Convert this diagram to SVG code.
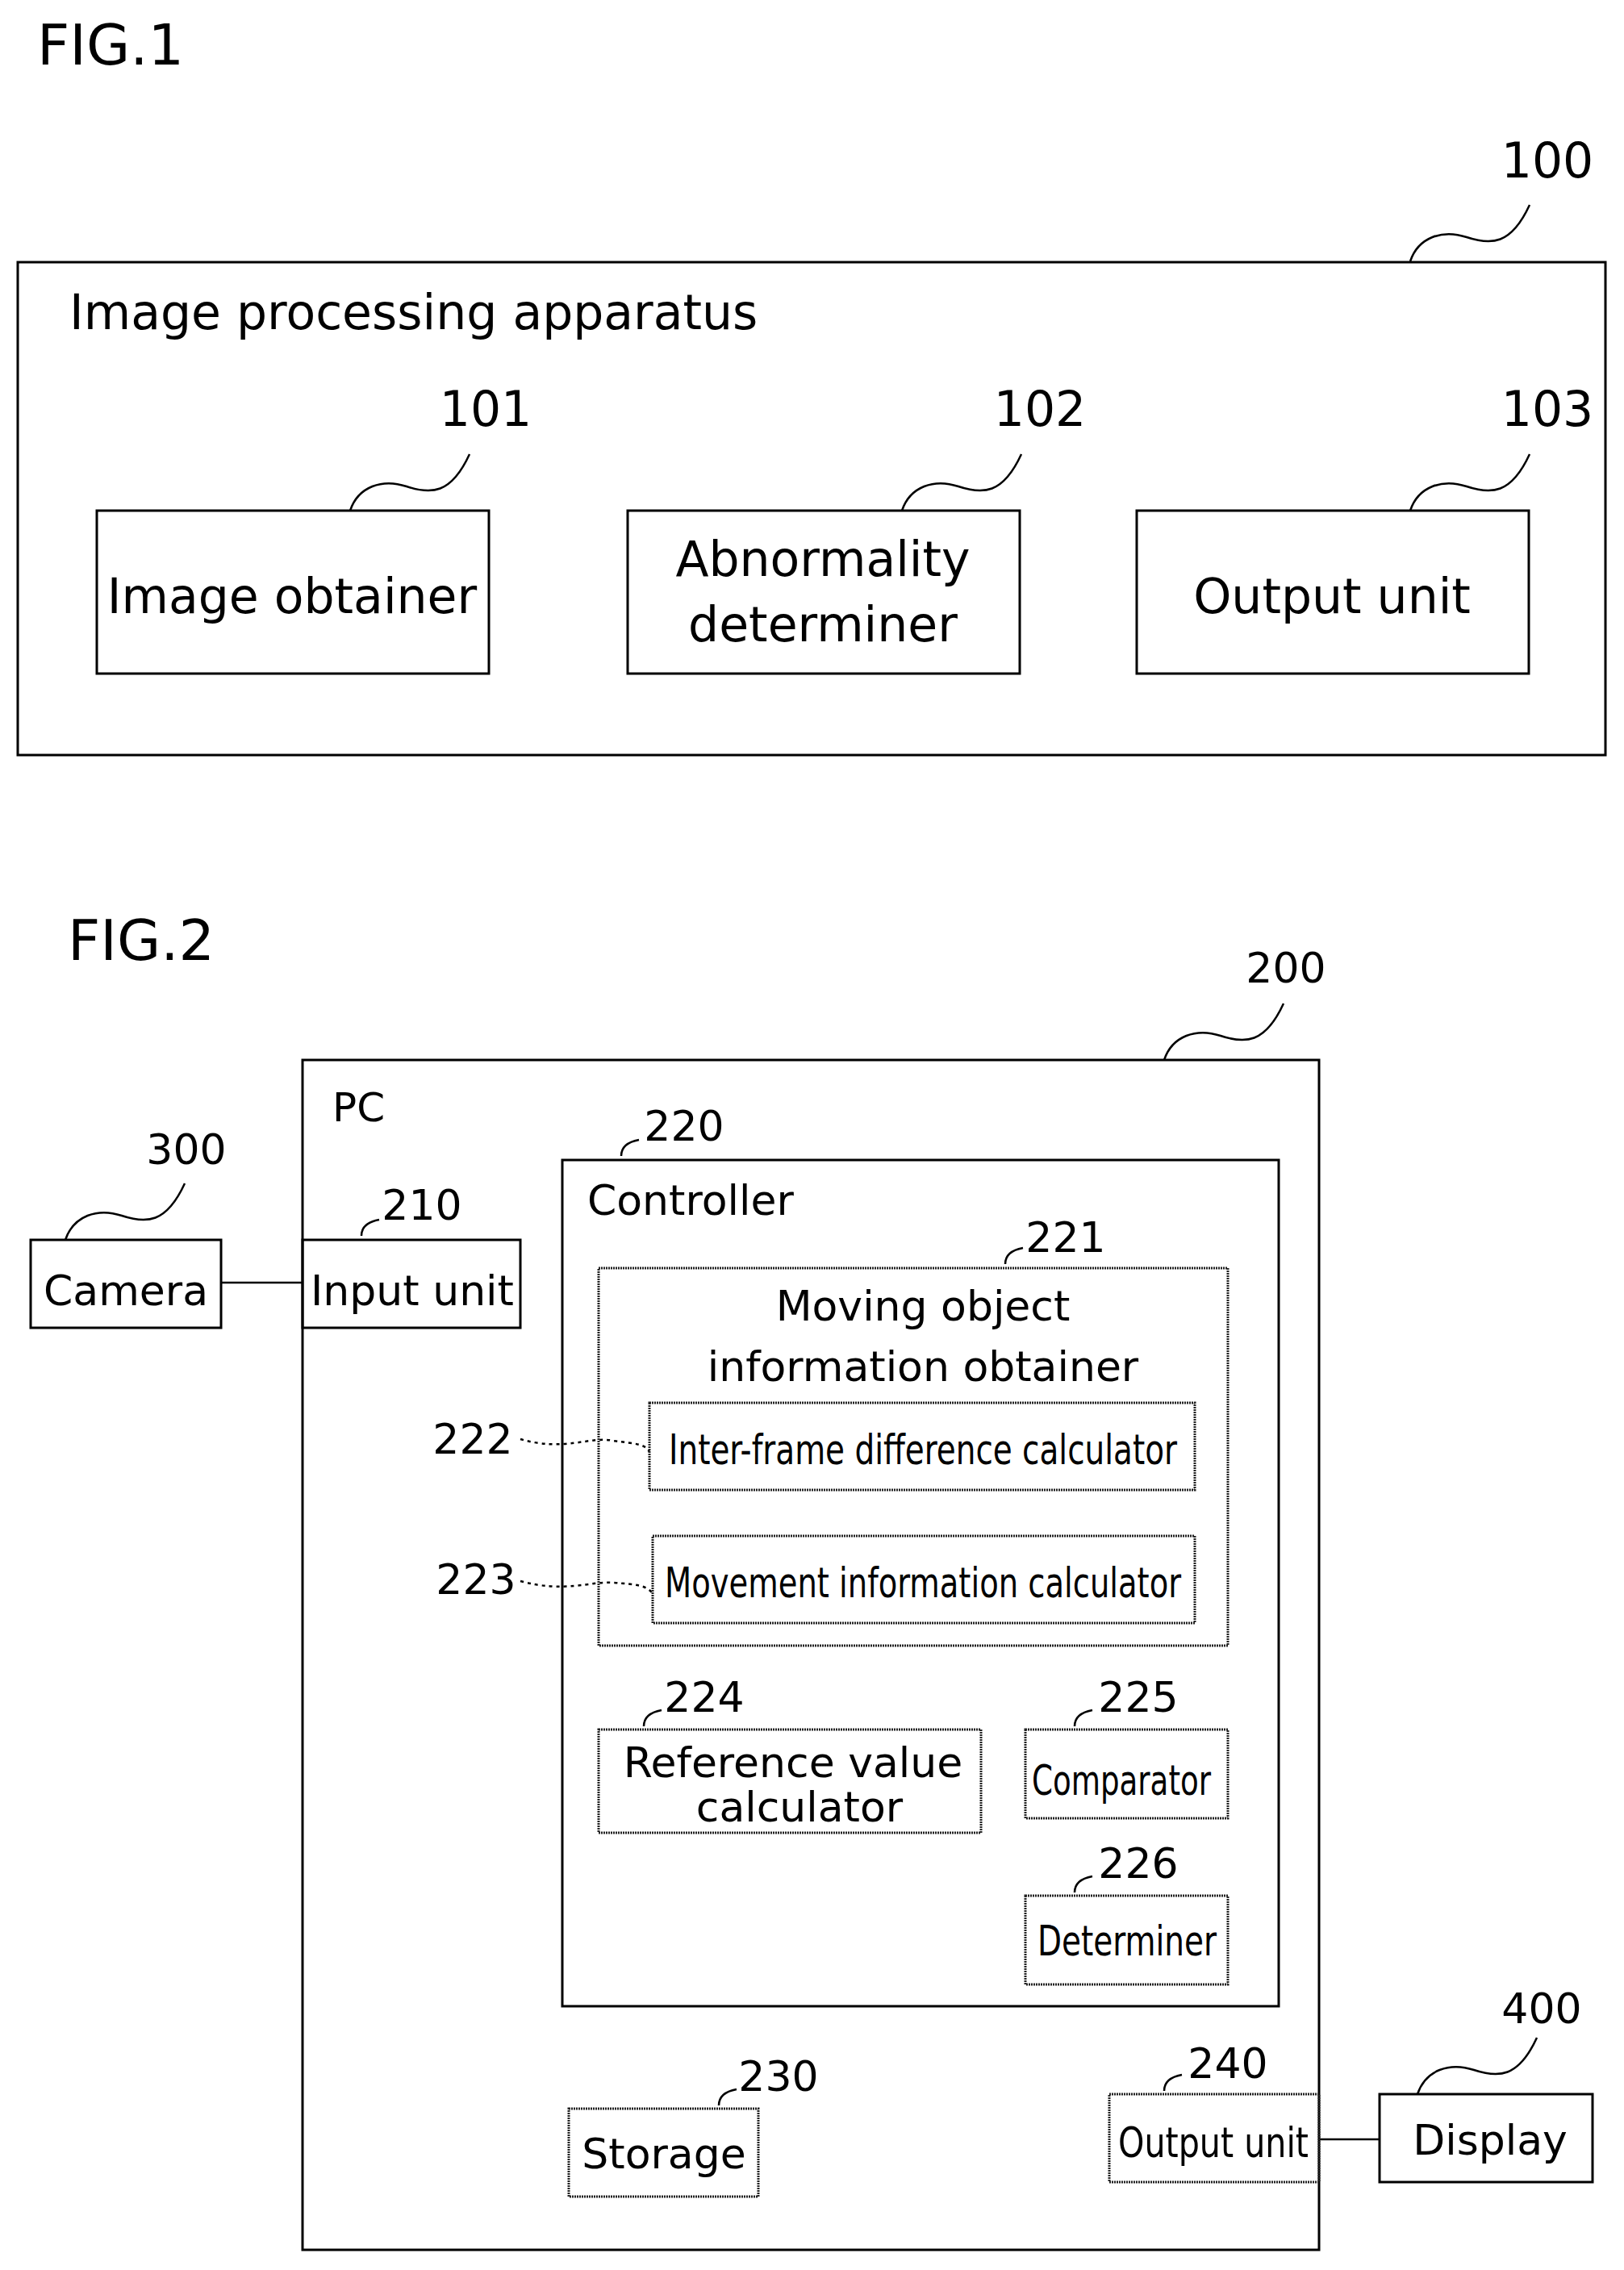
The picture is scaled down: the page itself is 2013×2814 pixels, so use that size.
<svg xmlns="http://www.w3.org/2000/svg" width="2013" height="2814" viewBox="0 0 2013 2814">
<style>
text{font-family:"DejaVu Sans",Verdana,sans-serif;fill:#000}
.b{fill:none;stroke:#000;stroke-width:3}
.d{fill:none;stroke:#222;stroke-width:3;stroke-dasharray:2 1}
.l{fill:none;stroke:#000;stroke-width:2.5}
.t1{font-size:60px;text-anchor:middle}
.t2{font-size:52px;text-anchor:middle}
.n{font-size:52px;text-anchor:middle;font-family:"Liberation Sans Narrow","DejaVu Sans Condensed",sans-serif}
.fig{font-size:70px}
</style>
<defs>
<path id="sq" d="M0,0 C10,-30 40,-40 70,-30 S125,-20 148,-70" fill="none" stroke="#000" stroke-width="2.5"/>
<path id="hk" d="M0,0 q0,-16 22,-20" fill="none" stroke="#000" stroke-width="2.5"/>
</defs>
<text class="fig" x="46" y="80">FIG.1</text>
<g id="n100"><rect class="b" x="22" y="325" width="1968" height="611"/><text x="86" y="408" font-size="60">Image processing apparatus</text><text class="t1" x="1918" y="220">100</text><use href="#sq" x="1748" y="324"/></g>
<g id="n101"><rect class="b" x="120" y="633" width="486" height="202"/><text class="t1" x="362" y="760">Image obtainer</text><text class="t1" x="602" y="528">101</text><use href="#sq" x="434" y="633"/></g>
<g id="n102"><rect class="b" x="778" y="633" width="486" height="202"/><text class="t1" x="1020" y="714">Abnormality</text><text class="t1" x="1020" y="795">determiner</text><text class="t1" x="1289" y="528">102</text><use href="#sq" x="1118" y="633"/></g>
<g id="n103"><rect class="b" x="1409" y="633" width="486" height="202"/><text class="t1" x="1651" y="760">Output unit</text><text class="t1" x="1918" y="528">103</text><use href="#sq" x="1748" y="633"/></g>
<text class="fig" x="84" y="1190">FIG.2</text>
<g id="connectors"><line class="l" x1="274" y1="1590" x2="375" y2="1590"/><line class="l" x1="1635" y1="2652" x2="1710" y2="2652"/>
<path class="l" stroke-dasharray="4 5" d="M645,1784 C700,1800 730,1780 760,1786 C790,1790 800,1790 805,1800"/>
<path class="l" stroke-dasharray="4 5" d="M645,1960 C700,1975 730,1960 760,1962 C790,1964 800,1965 809,1975"/></g>
<g id="n200"><rect class="b" x="375" y="1314" width="1260" height="1475"/><text x="412" y="1390" font-size="50" font-family="Liberation Sans Narrow,sans-serif">PC</text><text class="t2" x="1594" y="1218">200</text><use href="#sq" x="1443" y="1314"/></g>
<g id="n220"><rect class="b" x="697" y="1438" width="888" height="1049"/><text x="728" y="1506" font-size="52">Controller</text><text class="t2" x="848" y="1414">220</text><use href="#hk" x="770" y="1433"/></g>
<g id="n300"><rect class="b" x="38" y="1537" width="236" height="109"/><text class="t2" x="156" y="1618">Camera</text><text class="t2" x="231" y="1443">300</text><use href="#sq" x="81" y="1537"/></g>
<g id="n210"><rect class="b" x="375" y="1537" width="270" height="109"/><text class="t2" x="511" y="1618">Input unit</text><text class="t2" x="523" y="1512">210</text><use href="#hk" x="448" y="1532"/></g>
<g id="n221"><rect class="d" x="742" y="1572" width="780" height="468"/><text class="t2" x="1144" y="1637">Moving object</text><text class="t2" x="1144" y="1712">information obtainer</text><text class="t2" x="1321" y="1552">221</text><use href="#hk" x="1246" y="1567"/></g>
<g id="n222"><rect class="d" x="805" y="1739" width="676" height="108"/><text class="n" x="1144" y="1815" textLength="630" lengthAdjust="spacingAndGlyphs">Inter-frame difference calculator</text><text class="t2" x="586" y="1802">222</text></g>
<g id="n223"><rect class="d" x="809" y="1904" width="672" height="108"/><text class="n" x="1144" y="1980" textLength="640" lengthAdjust="spacingAndGlyphs">Movement information calculator</text><text class="t2" x="590" y="1976">223</text></g>
<g id="n224"><rect class="d" x="742" y="2144" width="474" height="128"/><text class="t2" x="983" y="2203">Reference value</text><text class="t2" x="991" y="2258">calculator</text><text class="t2" x="873" y="2122">224</text><use href="#hk" x="798" y="2140"/></g>
<g id="n225"><rect class="d" x="1271" y="2144" width="251" height="110"/><text class="n" x="1390" y="2225" textLength="222" lengthAdjust="spacingAndGlyphs">Comparator</text><text class="t2" x="1411" y="2122">225</text><use href="#hk" x="1332" y="2140"/></g>
<g id="n226"><rect class="d" x="1271" y="2350" width="251" height="110"/><text class="n" x="1397" y="2424" textLength="222" lengthAdjust="spacingAndGlyphs">Determiner</text><text class="t2" x="1411" y="2328">226</text><use href="#hk" x="1332" y="2346"/></g>
<g id="n230"><rect class="d" x="705" y="2614" width="235" height="109"/><text class="t2" x="823" y="2688">Storage</text><text class="t2" x="965" y="2592">230</text><use href="#hk" x="891" y="2610"/></g>
<g id="n240"><rect class="d" x="1375" y="2596" width="260" height="109"/><text class="n" x="1504" y="2674" textLength="236" lengthAdjust="spacingAndGlyphs">Output unit</text><text class="t2" x="1522" y="2576">240</text><use href="#hk" x="1443" y="2592"/></g>
<g id="n400"><rect class="b" x="1710" y="2596" width="264" height="109"/><text class="t2" x="1847" y="2671">Display</text><text class="t2" x="1911" y="2508">400</text><use href="#sq" x="1757" y="2596"/></g>
</svg>
